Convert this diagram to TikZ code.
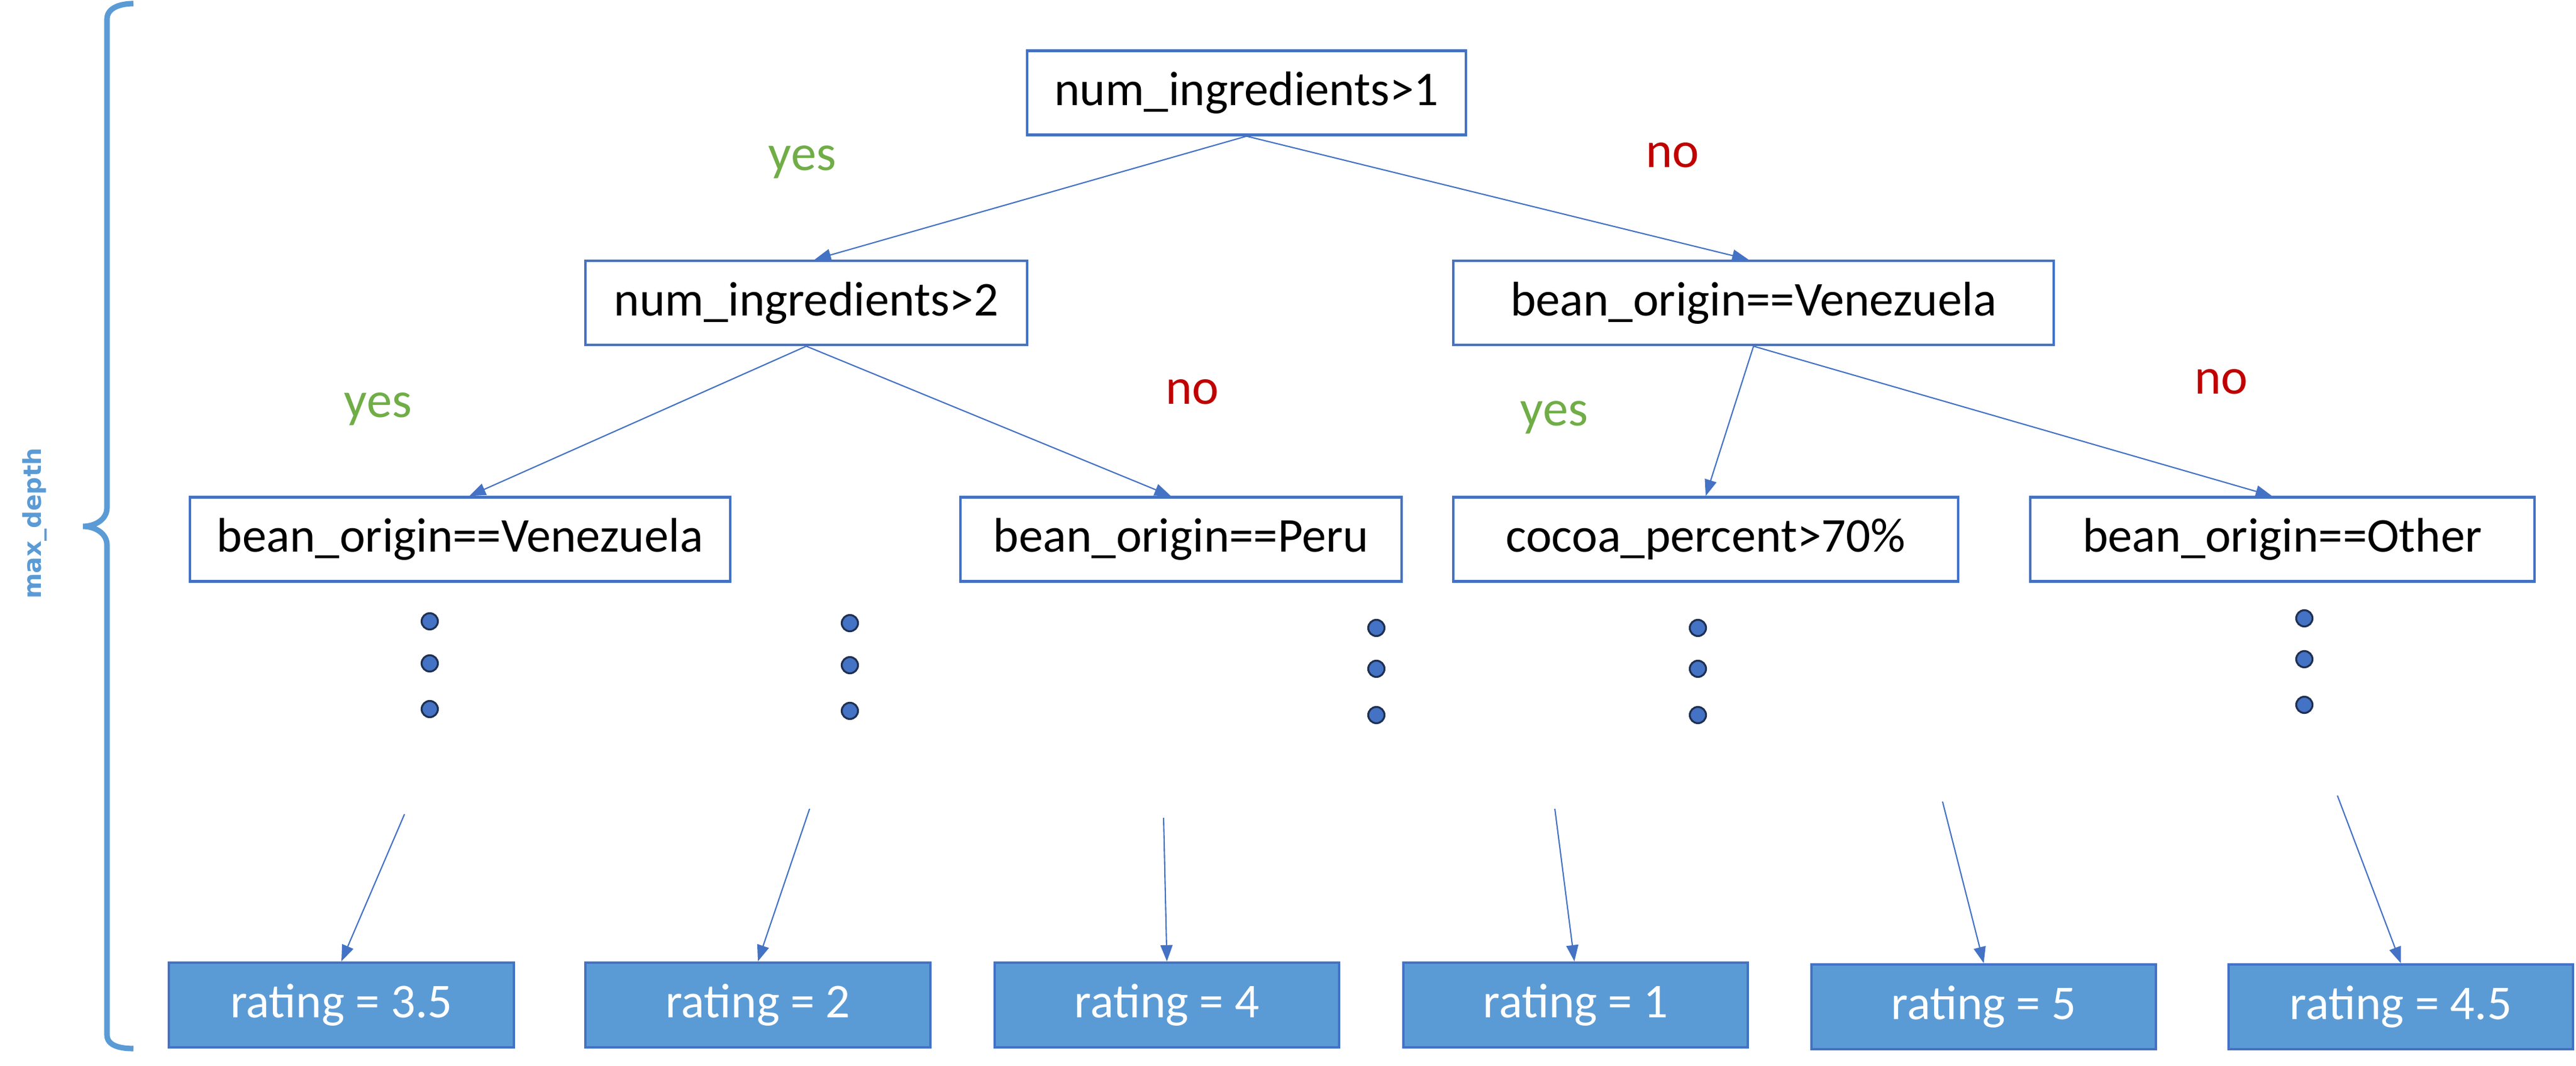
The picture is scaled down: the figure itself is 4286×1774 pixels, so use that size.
\documentclass[tikz,border=0pt]{standalone}
\usepackage{fontspec}
\setmainfont{Carlito}
\newfontfamily\depthfont{DejaVu Sans}
\usetikzlibrary{arrows.meta}
\definecolor{boxblue}{HTML}{4472C4}
\definecolor{leaffill}{HTML}{5B9BD5}
\definecolor{yesgreen}{HTML}{70AD47}
\definecolor{nored}{HTML}{C00000}
\definecolor{dotline}{HTML}{1F3050}
\begin{document}
\begin{tikzpicture}[x=0.01cm,y=-0.01cm,
  cond/.style={draw=boxblue, line width=1.2pt, fill=white, inner sep=0pt,
    minimum height=1.40cm, font=\fontsize{23}{28}\selectfont},
  leafbox/.style={draw=boxblue, fill=leaffill, line width=1.2pt, text=white, inner sep=0pt,
    minimum width=5.73cm, minimum height=1.41cm, font=\fontsize{23}{28}\selectfont},
  edge/.style={draw=boxblue, line width=0.6pt, -{Triangle[length=0.27cm,width=0.2cm]}},
  yeslbl/.style={anchor=base, text=yesgreen, font=\fontsize{24}{28}\selectfont},
  nolbl/.style={anchor=base, text=nored, font=\fontsize{24}{28}\selectfont},
  dotnode/.style={circle, draw=dotline, fill=boxblue, line width=0.9pt, minimum size=0.27cm, inner sep=0pt}]
\useasboundingbox (0,0) rectangle (4286,1774);

% decision boxes
\node[cond, minimum width=7.30cm] (root) at (2074,154.5) {num\_ingredients>1};
\node[cond, minimum width=7.35cm] (l2a) at (1341.5,504) {num\_ingredients>2};
\node[cond, minimum width=9.99cm] (l2b) at (2917.5,504) {bean\_origin==Venezuela};
\node[cond, minimum width=8.99cm] (l3a) at (765.5,897.5) {bean\_origin==Venezuela};
\node[cond, minimum width=7.34cm] (l3b) at (1965,897.5) {bean\_origin==Peru};
\node[cond, minimum width=8.40cm] (l3c) at (2838,897.5) {cocoa\_percent>70\%};
\node[cond, minimum width=8.39cm] (l3d) at (3797.5,897.5) {bean\_origin==Other};

% leaves
\node[leafbox] (r1) at (568,1672.5) {rating = 3.5};
\node[leafbox] (r2) at (1261,1672.5) {rating = 2};
\node[leafbox] (r3) at (1941.5,1672.5) {rating = 4};
\node[leafbox] (r4) at (2621.5,1672.5) {rating = 1};
\node[leafbox] (r5) at (3300.5,1675.5) {rating = 5};
\node[leafbox] (r6) at (3994.5,1675.5) {rating = 4.5};

% tree edges
\draw[edge] (root.south) -- ([xshift=0.14cm]l2a.north);
\draw[edge] (root.south) -- ([xshift=-0.085cm]l2b.north);
\draw[edge] (l2a.south) -- ([xshift=0.155cm]l3a.north);
\draw[edge] (l2a.south) -- ([xshift=-0.17cm]l3b.north);
\draw[edge] (l2b.south) -- (l3c.north);
\draw[edge] (l2b.south) -- ([xshift=-0.175cm]l3d.north);

% branch labels
\node[yeslbl] (y1) at (1335,284) {yes};
\node[nolbl] (n1) at (2783,279) {no};
\node[yeslbl] (y2) at (629,695) {yes};
\node[nolbl] (n2) at (1984,673) {no};
\node[yeslbl] (y3) at (2586,709) {yes};
\node[nolbl] (n3) at (3696,656) {no};

% ellipsis dots
\node[dotnode] (d11) at (715,1034) {};
\node[dotnode] (d12) at (715,1104) {};
\node[dotnode] (d13) at (715,1180) {};
\node[dotnode] (d21) at (1414,1037) {};
\node[dotnode] (d22) at (1414,1107) {};
\node[dotnode] (d23) at (1414,1183) {};
\node[dotnode] (d31) at (2290,1045) {};
\node[dotnode] (d32) at (2290,1113) {};
\node[dotnode] (d33) at (2290,1190) {};
\node[dotnode] (d41) at (2825,1045) {};
\node[dotnode] (d42) at (2825,1113) {};
\node[dotnode] (d43) at (2825,1190) {};
\node[dotnode] (d51) at (3834,1029) {};
\node[dotnode] (d52) at (3834,1097) {};
\node[dotnode] (d53) at (3834,1173) {};

% free starts of leaf arrows
\coordinate (s1) at (673,1355);
\coordinate (s2) at (1347,1346);
\coordinate (s3) at (1936,1361);
\coordinate (s4) at (2587,1346);
\coordinate (s5) at (3232,1334);
\coordinate (s6) at (3889,1324);
\draw[edge] (s1) -- (r1.north);
\draw[edge] (s2) -- (r2.north);
\draw[edge] (s3) -- (r3.north);
\draw[edge] (s4) -- ([xshift=-0.02cm]r4.north);
\draw[edge] (s5) -- (r5.north);
\draw[edge] (s6) -- (r6.north);

% brace and depth label
\draw[leaffill, line width=2.6pt] (222,6) to[out=180,in=90] (178,32) -- (178,845)
  to[out=-90,in=0] (138,876) to[out=0,in=90] (178,907) -- (178,1722)
  to[out=-90,in=180] (222,1745);
\node[rotate=90, text=leaffill, font=\depthfont\bfseries\fontsize{11.6}{13}\selectfont] (md) at (58,871) {max\_depth};
\end{tikzpicture}
\end{document}
